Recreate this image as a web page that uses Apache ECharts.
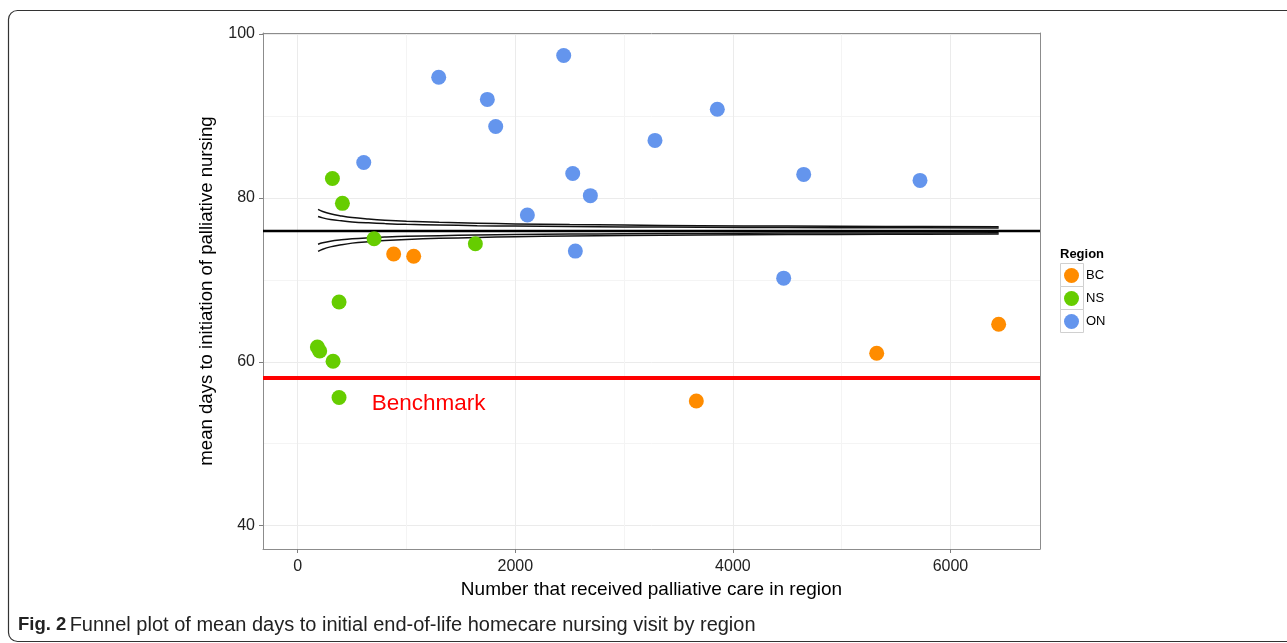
<!DOCTYPE html>
<html><head><meta charset="utf-8">
<script src="https://cdn.jsdelivr.net/npm/echarts@6/dist/echarts.min.js"></script>
<style>html,body{margin:0;padding:0;background:#fff}#c{width:1287px;height:643px}</style>
</head><body><div id="c"></div>
<script>
const regionNames = ['BC', 'NS', 'ON'];
const regionColors = ['#ff8c00', '#66cd00', '#6495ed'];
const bcPoints = [[882, 73.14], [1066, 72.86], [3664, 55.22], [5322, 61.04], [6443, 64.57]];
const nsPoints = [[319, 82.36], [411, 79.32], [702, 75.0], [1633, 74.4], [380, 67.29], [181, 61.8], [202, 61.32], [325, 60.06], [380, 55.64]];
const onPoints = [[1296, 94.7], [2445, 97.36], [1743, 92.0], [1820, 88.7], [607, 84.3], [3284, 87.0], [3857, 90.8], [4651, 82.85], [5720, 82.12], [4467, 70.2], [2528, 82.97], [2690, 80.26], [2111, 77.9], [2552, 73.5]];
const funnelN = [187, 230, 300, 400, 500, 650, 800, 1000, 1300, 1650, 2000, 2500, 3000, 3700, 4500, 5400, 6443];
const upperOuter = [78.59, 78.33, 78.05, 77.79, 77.59, 77.41, 77.27, 77.14, 77.01, 76.90, 76.81, 76.73, 76.67, 76.60, 76.55, 76.51, 76.47];
const upperInner = [77.72, 77.55, 77.36, 77.19, 77.06, 76.94, 76.85, 76.76, 76.68, 76.60, 76.55, 76.49, 76.45, 76.41, 76.37, 76.35, 76.32];
const lowerInner = [74.34, 74.51, 74.70, 74.87, 75.00, 75.12, 75.21, 75.30, 75.38, 75.46, 75.51, 75.57, 75.61, 75.65, 75.69, 75.71, 75.74];
const lowerOuter = [73.47, 73.73, 74.01, 74.27, 74.47, 74.65, 74.79, 74.92, 75.05, 75.16, 75.25, 75.33, 75.39, 75.46, 75.51, 75.55, 75.59];
const meanDays = 76.03;
const benchmarkDays = 58.0;
const benchmarkLabelPos = [1204, 54.82];
const xTicks = [0, 2000, 4000, 6000];
const xMinorTicks = [1000, 3000, 5000];
const yTicks = [40, 60, 80, 100];
const yMinorTicks = [50, 70, 90];
const xRange = [-319, 6823];
const yRange = [37.16, 100.1];

const chart = echarts.init(document.getElementById('c'), null, {renderer: 'canvas'});
const FONT = 'Liberation Sans, Arial, sans-serif';
const zip = (xs, ys) => xs.map((x, i) => [x, ys[i]]);
const funnelLine = (name, ys) => ({
  name: name, type: 'line', data: zip(funnelN, ys), smooth: 0.4,
  symbol: 'none', lineStyle: {color: '#111', width: 1.5}, z: 2, silent: true
});
const pointSeries = [bcPoints, nsPoints, onPoints].map((pts, i) => ({
  name: regionNames[i], type: 'scatter', data: pts, symbolSize: 15,
  itemStyle: {color: regionColors[i], opacity: 1}, z: 5
}));
const plain = v => String(v);

const option = {
  animation: false,
  backgroundColor: '#fff',
  grid: {left: 263, right: 247, top: 33, bottom: 94},
  xAxis: [{
    type: 'value', min: xRange[0], max: xRange[1],
    name: 'Number that received palliative care in region', nameLocation: 'middle', nameGap: 31,
    nameTextStyle: {fontFamily: FONT, fontSize: 19, color: '#000'},
    axisLine: {show: true, onZero: false, lineStyle: {color: '#8c8c8c', width: 1}},
    axisTick: {show: true, length: 4, customValues: xTicks, lineStyle: {color: '#7f7f7f'}},
    axisLabel: {customValues: xTicks, formatter: plain, fontFamily: FONT, fontSize: 16, color: '#222', margin: 10},
    splitLine: {show: true, lineStyle: {color: '#ebebeb', width: 1}}
  }, {
    type: 'value', min: xRange[0], max: xRange[1], position: 'bottom',
    axisLine: {show: false}, axisTick: {show: false, customValues: xMinorTicks},
    axisLabel: {show: false, customValues: xMinorTicks},
    splitLine: {show: true, lineStyle: {color: '#f4f4f4', width: 1}}
  }, {
    type: 'value', min: xRange[0], max: xRange[1], position: 'top',
    axisLine: {show: true, onZero: false, lineStyle: {color: '#8c8c8c', width: 1}},
    axisTick: {show: false, customValues: []}, axisLabel: {show: false, customValues: []},
    splitLine: {show: false}
  }],
  yAxis: [{
    type: 'value', min: yRange[0], max: yRange[1],
    name: 'mean days to initiation of palliative nursing', nameLocation: 'middle', nameGap: 47,
    nameTextStyle: {fontFamily: FONT, fontSize: 18.6, color: '#000'},
    axisLine: {show: true, onZero: false, lineStyle: {color: '#8c8c8c', width: 1}},
    axisTick: {show: true, length: 4, customValues: yTicks, lineStyle: {color: '#7f7f7f'}},
    axisLabel: {customValues: yTicks, formatter: plain, fontFamily: FONT, fontSize: 16, color: '#222', margin: 8},
    splitLine: {show: true, lineStyle: {color: '#ebebeb', width: 1}}
  }, {
    type: 'value', min: yRange[0], max: yRange[1], position: 'left',
    axisLine: {show: false}, axisTick: {show: false, customValues: yMinorTicks},
    axisLabel: {show: false, customValues: yMinorTicks},
    splitLine: {show: true, lineStyle: {color: '#f4f4f4', width: 1}}
  }, {
    type: 'value', min: yRange[0], max: yRange[1], position: 'right',
    axisLine: {show: true, onZero: false, lineStyle: {color: '#8c8c8c', width: 1}},
    axisTick: {show: false, customValues: []}, axisLabel: {show: false, customValues: []},
    splitLine: {show: false}
  }],
  legend: {
    orient: 'vertical', left: 1064, top: 268, padding: 0, itemWidth: 15, itemHeight: 15, itemGap: 8,
    icon: 'circle', data: regionNames,
    textStyle: {fontFamily: FONT, fontSize: 13, color: '#000', padding: [0, 0, 0, 2]}
  },
  graphic: [
    {type: 'rect', shape: {x: 8.5, y: 10.5, width: 1320, height: 631, r: 9},
     style: {fill: 'none', stroke: '#333', lineWidth: 1.2}, silent: true, z: 0},
    {type: 'text', left: 1060, top: 248, style: {text: 'Region', font: 'bold 13px ' + FONT, fill: '#000'}},
    {type: 'rect', shape: {x: 1060.5, y: 263.5, width: 23, height: 23}, style: {fill: '#fff', stroke: '#d0d0d0', lineWidth: 1}, z: -1},
    {type: 'rect', shape: {x: 1060.5, y: 286.5, width: 23, height: 23}, style: {fill: '#fff', stroke: '#d0d0d0', lineWidth: 1}, z: -1},
    {type: 'rect', shape: {x: 1060.5, y: 309.5, width: 23, height: 23}, style: {fill: '#fff', stroke: '#d0d0d0', lineWidth: 1}, z: -1},
    {type: 'text', left: 18, top: 615, style: {
      rich: {b: {font: 'bold 18.5px ' + FONT, fill: '#222'}, n: {font: '20px ' + FONT, fill: '#222'}},
      text: '{b|Fig. 2} {n|Funnel plot of mean days to initial end-of-life homecare nursing visit by region}'
    }}
  ],
  series: [
    funnelLine('upperOuter', upperOuter),
    funnelLine('upperInner', upperInner),
    funnelLine('lowerInner', lowerInner),
    funnelLine('lowerOuter', lowerOuter),
    {
      name: 'refLines', type: 'line', data: [], silent: true, z: 3,
      markLine: {
        silent: true, symbol: 'none', label: {show: false}, animation: false,
        data: [
          {yAxis: meanDays, lineStyle: {color: '#000', width: 2.4, type: 'solid'}},
          {yAxis: benchmarkDays, lineStyle: {color: '#ff0000', width: 4.2, type: 'solid'}}
        ]
      }
    },
    {
      name: 'benchmarkLabel', type: 'scatter', data: [benchmarkLabelPos], symbolSize: 2,
      itemStyle: {color: 'rgba(255,255,255,0)'}, silent: true, z: 4,
      label: {show: true, position: 'inside', formatter: 'Benchmark', fontFamily: FONT, fontSize: 22.5,
        color: '#ff0000', textBorderWidth: 0, textBorderColor: 'transparent', opacity: 1}
    }
  ].concat(pointSeries)
};
chart.setOption(option);
</script>
</body></html>
